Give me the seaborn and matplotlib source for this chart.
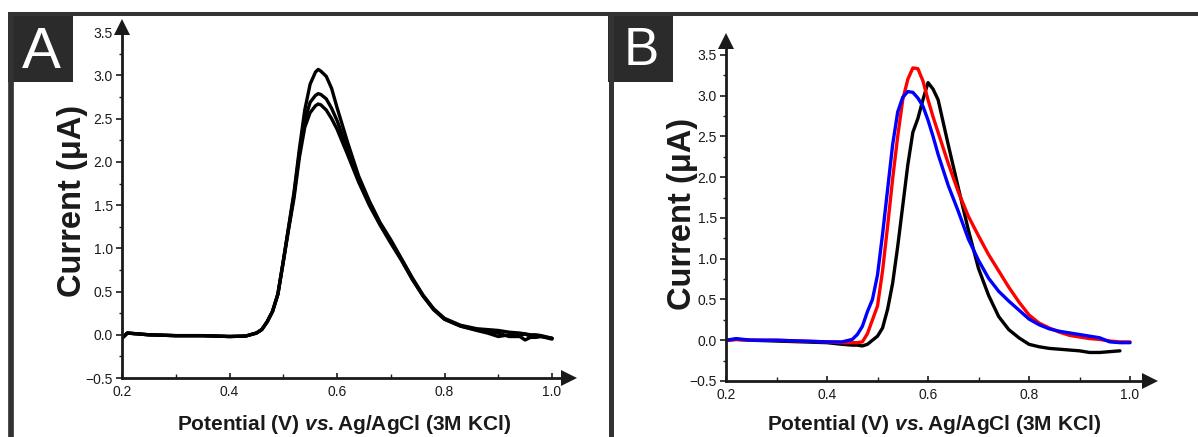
import numpy as np
import pandas as pd
import matplotlib
matplotlib.use("Agg")
import matplotlib.pyplot as plt
import seaborn as sns
from matplotlib.lines import Line2D
from matplotlib.patches import Rectangle
from matplotlib.ticker import MultipleLocator

# ---------------- data ----------------
# Panel A: three repeated DPV scans (potential in V, current in uA)
xa = [0.200, 0.210, 0.250, 0.300, 0.350, 0.400, 0.430, 0.450, 0.460, 0.470,
      0.480, 0.490, 0.500, 0.510, 0.520, 0.530, 0.540, 0.550, 0.560, 0.565,
      0.570, 0.580, 0.590, 0.600, 0.620, 0.640, 0.660, 0.680, 0.700, 0.720,
      0.740, 0.760, 0.780, 0.800, 0.830, 0.860, 0.880, 0.900, 0.920, 0.940,
      0.950, 0.960, 0.970, 0.980, 1.000]
scan1 = [-0.04, 0.02, 0.00, -0.01, -0.01, -0.02, -0.015, 0.02, 0.06, 0.15,
         0.27, 0.47, 0.85, 1.25, 1.65, 2.15, 2.60, 2.90, 3.04, 3.07,
         3.05, 2.99, 2.85, 2.63, 2.22, 1.84, 1.55, 1.30, 1.10, 0.88,
         0.66, 0.46, 0.30, 0.19, 0.11, 0.07, 0.06, 0.05, 0.03, 0.02,
         0.01, 0.00, 0.00, -0.01, -0.04]
scan2 = [-0.04, 0.02, 0.00, -0.01, -0.01, -0.02, -0.015, 0.02, 0.06, 0.15,
         0.27, 0.47, 0.85, 1.24, 1.62, 2.10, 2.48, 2.69, 2.77, 2.79,
         2.78, 2.73, 2.62, 2.48, 2.14, 1.80, 1.53, 1.29, 1.08, 0.87,
         0.65, 0.45, 0.29, 0.18, 0.10, 0.05, 0.02, -0.02, 0.00, -0.01,
         0.01, -0.02, -0.01, -0.02, -0.04]
scan3 = [-0.04, 0.02, 0.00, -0.01, -0.01, -0.02, -0.015, 0.02, 0.06, 0.15,
         0.27, 0.47, 0.84, 1.22, 1.58, 2.05, 2.40, 2.57, 2.65, 2.67,
         2.66, 2.60, 2.50, 2.38, 2.08, 1.77, 1.50, 1.27, 1.06, 0.86,
         0.64, 0.45, 0.29, 0.18, 0.10, 0.06, 0.04, 0.02, -0.02, -0.02,
         -0.06, -0.03, -0.03, -0.02, -0.05]

# Panel B: three electrodes / conditions
xb = [0.20, 0.22, 0.25, 0.30, 0.35, 0.40, 0.43, 0.45, 0.46, 0.47,
      0.48, 0.49, 0.50, 0.51, 0.52, 0.53, 0.54, 0.55, 0.56, 0.57,
      0.58, 0.59, 0.60, 0.61, 0.62, 0.64, 0.66, 0.68, 0.70, 0.72,
      0.74, 0.76, 0.78, 0.80, 0.82, 0.84, 0.86, 0.88, 0.90, 0.92,
      0.94, 0.96, 0.98, 1.00]
b_black = [0.00, 0.01, 0.00, -0.01, -0.02, -0.03, -0.05, -0.06, -0.06, -0.07,
           -0.05, 0.00, 0.05, 0.15, 0.38, 0.70, 1.15, 1.65, 2.15, 2.55,
           2.72, 2.95, 3.16, 3.08, 2.95, 2.40, 1.87, 1.35, 0.88, 0.55,
           0.29, 0.13, 0.03, -0.05, -0.08, -0.10, -0.11, -0.12, -0.13, -0.15,
           -0.15, -0.14, -0.13, np.nan]
b_red = [0.00, 0.01, 0.00, 0.00, -0.01, -0.02, -0.03, -0.03, -0.03, -0.02,
         0.08, 0.25, 0.42, 0.85, 1.40, 1.98, 2.50, 2.95, 3.20, 3.34,
         3.33, 3.18, 2.95, 2.74, 2.55, 2.17, 1.82, 1.52, 1.28, 1.05,
         0.85, 0.65, 0.47, 0.31, 0.21, 0.15, 0.10, 0.06, 0.04, 0.02,
         0.01, -0.01, -0.02, -0.02]
b_blue = [0.00, 0.02, 0.00, 0.00, -0.01, -0.02, -0.02, 0.01, 0.07, 0.17,
          0.35, 0.50, 0.80, 1.30, 1.85, 2.40, 2.80, 2.98, 3.05, 3.04,
          2.97, 2.87, 2.70, 2.50, 2.28, 1.90, 1.58, 1.24, 0.98, 0.76,
          0.60, 0.48, 0.37, 0.26, 0.19, 0.14, 0.11, 0.09, 0.07, 0.05,
          0.03, -0.02, -0.03, -0.03]

x_ticks_major = 0.2
y_ticks_major = 0.5
xlabel = r"Potential (V) $\mathit{vs.}$Ag/AgCl (3M KCl)"
ylabel = "Current (\u03bcA)"
panel_letters = ["A", "B"]

# ---------------- style ----------------
sns.set_theme(style="white")
plt.rcParams["font.family"] = ["Liberation Sans", "DejaVu Sans"]
plt.rcParams["mathtext.fontset"] = "custom"
plt.rcParams["mathtext.rm"] = "Liberation Sans:bold"
plt.rcParams["mathtext.bf"] = "Liberation Sans:bold"
plt.rcParams["mathtext.it"] = "Liberation Sans:bold:italic"

W, H = 1198, 437
fig = plt.figure(figsize=(W / 100, H / 100), dpi=100, facecolor="white")


def px_rect(l, t, r, b):
    return [l / W, 1 - b / H, (r - l) / W, (b - t) / H]


axA = fig.add_axes(px_rect(122, 27, 569, 378))
axB = fig.add_axes(px_rect(726, 41, 1150, 381))

dfA = pd.DataFrame({
    "E": np.tile(xa, 3),
    "I": np.concatenate([scan1, scan2, scan3]),
    "scan": np.repeat(["1", "2", "3"], len(xa)),
})
sns.lineplot(data=dfA, x="E", y="I", units="scan", estimator=None, sort=False,
             color="black", lw=2.4, ax=axA, legend=False)

dfB = pd.DataFrame({
    "E": np.tile(xb, 3),
    "I": np.concatenate([b_black, b_red, b_blue]),
    "trace": np.repeat(["black", "red", "blue"], len(xb)),
}).dropna()
sns.lineplot(data=dfB, x="E", y="I", hue="trace", hue_order=["black", "red", "blue"],
             palette={"black": "#000000", "red": "#ff0000", "blue": "#0000ff"},
             estimator=None, sort=False, lw=2.4, ax=axB, legend=False)

AXC = "#1a1a1a"


def style(ax, xmax, ymax):
    ax.set_xlim(0.2, xmax)
    ax.set_ylim(-0.5, ymax)
    ax.set_facecolor("none")
    for s in ["top", "right"]:
        ax.spines[s].set_visible(False)
    for s in ["left", "bottom"]:
        ax.spines[s].set_linewidth(2.0)
        ax.spines[s].set_color(AXC)
    ax.xaxis.set_major_locator(MultipleLocator(x_ticks_major))
    ax.xaxis.set_minor_locator(MultipleLocator(x_ticks_major / 2))
    ax.yaxis.set_major_locator(MultipleLocator(y_ticks_major))
    ax.yaxis.set_minor_locator(MultipleLocator(y_ticks_major / 2))
    ax.tick_params(axis="x", which="major", direction="in", length=3.5, width=1.2,
                   color=AXC, labelsize=10, labelcolor=AXC, pad=5, bottom=True)
    ax.tick_params(axis="x", which="minor", direction="in", length=3, width=1.0,
                   color=AXC, bottom=True)
    ax.tick_params(axis="y", which="major", direction="out", length=4, width=1.2,
                   color=AXC, labelsize=10, labelcolor=AXC, pad=2.5, left=True)
    ax.tick_params(axis="y", which="minor", direction="out", length=2.5, width=1.0,
                   color=AXC, left=True)
    ax.set_xlabel("")
    ax.set_ylabel("")
    ax.grid(False)
    ax.plot([1], [0], marker=">", ms=11.5, mew=0, color=AXC,
            transform=ax.transAxes, clip_on=False)
    ax.plot([0], [1], marker="^", ms=11.5, mew=0, color=AXC,
            transform=ax.transAxes, clip_on=False)


style(axA, 1.0316, 3.561)
style(axB, 1.0396, 3.67)


def fx(x):
    return x / W


def fy(y):
    return 1 - y / H


for cx, cy in [(81, 201), (691, 214)]:
    fig.text(fx(cx), fy(cy), ylabel, rotation=90, rotation_mode="anchor",
             ha="center", va="baseline", fontsize=23.5, fontweight="bold",
             color=AXC)
for cx in [344.5, 934]:
    fig.text(fx(cx), fy(430), xlabel, ha="center", va="baseline",
             fontsize=15, fontweight="bold", color=AXC)

# panel frames and letter boxes
FR = "#2b2b2b"
fig.add_artist(Line2D([fx(8), 1.0], [fy(14), fy(14)], lw=2.9, color="#333333",
                      transform=fig.transFigure, solid_capstyle="butt"))
fig.add_artist(Line2D([fx(11), fx(11)], [fy(12), 0], lw=4.1, color="#333333",
                      transform=fig.transFigure, solid_capstyle="butt"))
fig.add_artist(Line2D([fx(610.5), fx(610.5)], [fy(12), 0], lw=3.6, color="#333333",
                      transform=fig.transFigure, solid_capstyle="butt"))
for (x0, letter, size, base) in [(8, panel_letters[0], 42, 68), (608, panel_letters[1], 38, 65)]:
    fig.add_artist(Rectangle((fx(x0), fy(82)), 65 / W, 70 / H, color=FR,
                             transform=fig.transFigure, lw=0))
    fig.text(fx(x0 + 33), fy(base), letter, ha="center", va="baseline",
             fontsize=size, color="white", fontweight="normal")

fig.savefig("out.png", dpi=100, facecolor="white")
